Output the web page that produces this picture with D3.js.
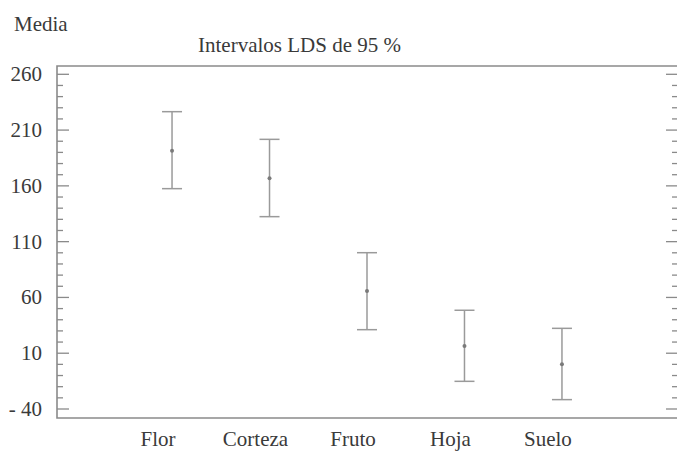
<!DOCTYPE html>
<html>
<head>
<meta charset="utf-8">
<script src="https://cdn.jsdelivr.net/npm/d3@7"></script>
<style>
  html, body { margin: 0; padding: 0; background: #fff; }
  svg { display: block; }
</style>
</head>
<body>
<script>
// Group means with 95 % LSD intervals
const categories = ["Flor", "Corteza", "Fruto", "Hoja", "Suelo"];
const means = [191.5, 166.8, 65.8, 16.5, 0.1];
const lower = [157.5, 132.4, 31.1, -15.2, -31.6];
const upper = [226.5, 201.7, 100.1, 48.5, 32.3];
const yTicks = [-40, 10, 60, 110, 160, 210, 260];
const yMinorTicks = d3.range(-40, 261, 10);

const W = 677, H = 451;
const frame = { left: 57, right: 677, top: 66, bottom: 418 };
const fontSize = 21;

const svg = d3.select("body").append("svg")
  .attr("width", W).attr("height", H)
  .attr("font-family", "Liberation Serif, serif");

const x = d3.scalePoint()
  .domain(categories)
  .range([frame.left, frame.right])
  .padding(1.18);

const y = d3.scaleLinear()
  .domain([-40, 260])
  .range([409, 74.3]);

const axisColor = "#8a8a8a";
const textColor = "#3a3a3a";

function label(sel) {
  sel.attr("font-family", "Liberation Serif, serif")
    .attr("font-size", fontSize)
    .attr("fill", textColor);
}

// frame
svg.append("path")
  .attr("d", `M${frame.right},${frame.top}H${frame.left}V${frame.bottom}H${frame.right}`)
  .attr("fill", "none").attr("stroke", axisColor).attr("stroke-width", 1.6);

// left axis ticks (inward)
const left = svg.append("g");
left.selectAll("line").data(yMinorTicks).join("line")
  .attr("x1", frame.left).attr("x2", d => yTicks.includes(d) ? frame.left + 12 : frame.left + 6)
  .attr("y1", d => y(d)).attr("y2", d => y(d))
  .attr("stroke", axisColor).attr("stroke-width", 1.3);

left.selectAll("text").data(yTicks).join("text")
  .attr("x", 42).attr("y", d => y(d) + 7)
  .attr("text-anchor", "end")
  .call(label)
  .text(d => d < 0 ? "- " + Math.abs(d) : d);

// right axis ticks (inward)
const right = svg.append("g");
right.selectAll("line").data(yMinorTicks).join("line")
  .attr("x1", frame.right).attr("x2", d => yTicks.includes(d) ? frame.right - 11 : frame.right - 5)
  .attr("y1", d => y(d)).attr("y2", d => y(d))
  .attr("stroke", axisColor).attr("stroke-width", 1.3);

// interval bars
const barColor = "#9a9a9a";
const cap = 10;
const g = svg.append("g");
categories.forEach((c, i) => {
  const cx = x(c);
  g.append("line")
    .attr("x1", cx).attr("x2", cx)
    .attr("y1", y(upper[i])).attr("y2", y(lower[i]))
    .attr("stroke", barColor).attr("stroke-width", 1.5);
  [upper[i], lower[i]].forEach(v => {
    g.append("line")
      .attr("x1", cx - cap).attr("x2", cx + cap)
      .attr("y1", y(v)).attr("y2", y(v))
      .attr("stroke", barColor).attr("stroke-width", 1.5);
  });
  g.append("circle")
    .attr("cx", cx).attr("cy", y(means[i])).attr("r", 2)
    .attr("fill", "#7a7a7a");
});

// category labels
svg.append("g").selectAll("text").data(categories).join("text")
  .attr("x", d => x(d) - 14).attr("y", 446)
  .attr("text-anchor", "middle")
  .call(label)
  .text(d => d);

// titles
svg.append("text").attr("x", 14).attr("y", 31).call(label).text("Media");
svg.append("text").attr("x", 198).attr("y", 52).call(label).text("Intervalos LDS de 95 %");
</script>
</body>
</html>
